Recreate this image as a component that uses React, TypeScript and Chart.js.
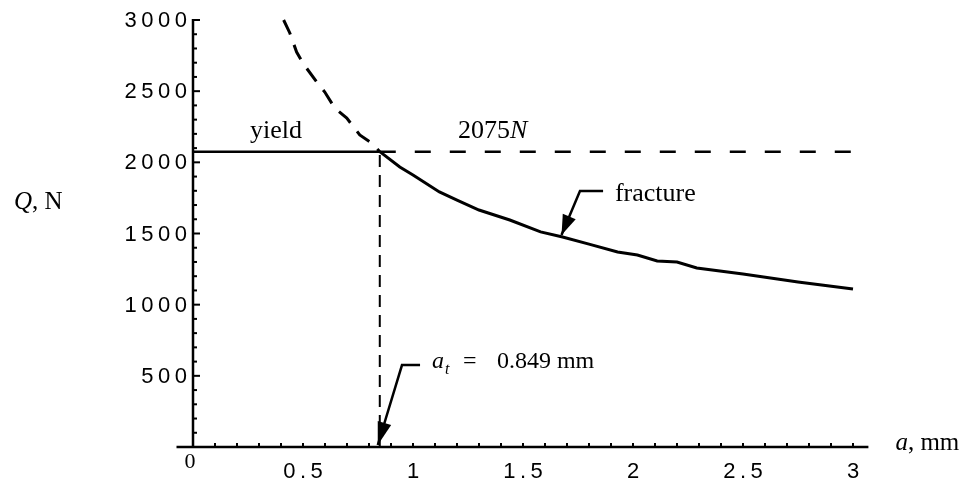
import React, { useEffect, useRef } from 'react';
import { Chart, registerables } from 'chart.js';

Chart.register(...registerables);

// ---- data ----
const yieldA = [0, 0.849];
const yieldQ = [2075, 2075];

const limitA = [0.849, 3.0];
const limitQ = [2075, 2075];

const transitionA = [0.849, 0.849];
const transitionQ = [0, 2075];

const extrapA = [0.412, 0.44, 0.471, 0.499, 0.562, 0.599, 0.644, 0.699, 0.758, 0.812, 0.849];
const extrapQ = [3000, 2909, 2775, 2698, 2565, 2494, 2382, 2311, 2192, 2136, 2075];

const fractureA = [0.849, 0.94, 1.0, 1.12, 1.2, 1.3, 1.44, 1.58, 1.68, 1.8, 1.93, 2.02, 2.11, 2.2, 2.29, 2.5, 2.75, 3.0];
const fractureQ = [2075, 1967, 1911, 1792, 1735, 1665, 1595, 1511, 1475, 1425, 1370, 1349, 1307, 1300, 1258, 1215, 1160, 1110];

const xTickValues = [0.5, 1, 1.5, 2, 2.5, 3];
const xTickLabels = ['0.5', '1', '1.5', '2', '2.5', '3'];
const yTickValues = [500, 1000, 1500, 2000, 2500, 3000];
const yTickLabels = ['500', '1000', '1500', '2000', '2500', '3000'];
const xMinorStep = 0.1;
const yMinorStep = 100;

const tAt = 0.849;

const SANS = '"Liberation Sans", Arial, sans-serif';
const SERIF = '"Liberation Serif", "Times New Roman", serif';

function pts(xs: number[], ys: number[]) {
  return xs.map((x, i) => ({ x, y: ys[i] }));
}

function drawSpaced(ctx: CanvasRenderingContext2D, text: string, x: number, y: number, spacing: number, align: string) {
  const chars = [...text];
  const widths = chars.map((c) => ctx.measureText(c).width);
  const total = widths.reduce((a, b) => a + b, 0) + spacing * (chars.length - 1);
  let cx = align === 'right' ? x - total : align === 'center' ? x - total / 2 : x;
  ctx.textAlign = 'left';
  chars.forEach((c, i) => {
    ctx.fillText(c, cx, y);
    cx += widths[i] + spacing;
  });
}

function arrow(ctx: CanvasRenderingContext2D, path: number[][], headLen: number, headHalf: number) {
  ctx.beginPath();
  ctx.moveTo(path[0][0], path[0][1]);
  for (let i = 1; i < path.length; i++) ctx.lineTo(path[i][0], path[i][1]);
  ctx.stroke();
  const [tx, ty] = path[path.length - 1];
  const [sx, sy] = path[path.length - 2];
  const ang = Math.atan2(ty - sy, tx - sx);
  const bx = tx - headLen * Math.cos(ang);
  const by = ty - headLen * Math.sin(ang);
  ctx.beginPath();
  ctx.moveTo(tx, ty);
  ctx.lineTo(bx + headHalf * Math.sin(ang), by - headHalf * Math.cos(ang));
  ctx.lineTo(bx - headHalf * Math.sin(ang), by + headHalf * Math.cos(ang));
  ctx.closePath();
  ctx.fill();
}

export default function App() {
  const ref = useRef<HTMLCanvasElement>(null);

  useEffect(() => {
    document.body.style.margin = '0';
    const canvas = ref.current!;

    const notes = {
      id: 'axesAndNotes',
      afterDatasetsDraw(chart: any) {
        const ctx: CanvasRenderingContext2D = chart.ctx;
        const xs = chart.scales.x;
        const ys = chart.scales.y;
        const px = (v: number) => xs.getPixelForValue(v);
        const py = (v: number) => ys.getPixelForValue(v);
        const x0 = px(0);
        const y0 = py(0);
        ctx.save();
        ctx.strokeStyle = '#000';
        ctx.fillStyle = '#000';
        ctx.setLineDash([]);

        // axes lines
        ctx.lineWidth = 2.5;
        ctx.beginPath();
        ctx.moveTo(px(-0.075), y0);
        ctx.lineTo(px(3.07), y0);
        ctx.stroke();
        ctx.beginPath();
        ctx.moveTo(x0, y0);
        ctx.lineTo(x0, py(3000) - 1);
        ctx.stroke();

        // ticks
        ctx.lineWidth = 2;
        for (let v = xMinorStep; v <= 3.0001; v += xMinorStep) {
          ctx.beginPath();
          ctx.moveTo(px(v), y0);
          ctx.lineTo(px(v), y0 - 4);
          ctx.stroke();
        }
        for (let v = yMinorStep; v <= 3000.001; v += yMinorStep) {
          const major = Math.abs(v % 500) < 1e-6;
          ctx.beginPath();
          ctx.moveTo(x0, py(v));
          ctx.lineTo(x0 + (major ? 7 : 4), py(v));
          ctx.stroke();
        }

        // tick labels
        ctx.font = `22px ${SANS}`;
        ctx.textBaseline = 'alphabetic';
        xTickValues.forEach((v, i) => drawSpaced(ctx, xTickLabels[i], px(v), y0 + 31, 4.5, 'center'));
        ctx.textBaseline = 'middle';
        yTickValues.forEach((v, i) => drawSpaced(ctx, yTickLabels[i], x0 - 6, py(v) + 1, 4.5, 'right'));

        ctx.textBaseline = 'alphabetic';
        ctx.font = `22px ${SERIF}`;
        ctx.textAlign = 'center';
        ctx.fillText('0', x0 - 3, y0 + 21);

        // axis titles
        ctx.textAlign = 'left';
        ctx.font = `italic 25px ${SERIF}`;
        ctx.fillText('Q', 14, py(1670));
        let w = ctx.measureText('Q').width;
        ctx.font = `25px ${SERIF}`;
        ctx.fillText(', N', 14 + w, py(1670));

        const ax = px(3.07) + 27;
        ctx.font = `italic 25px ${SERIF}`;
        ctx.fillText('a', ax, y0 + 3);
        w = ctx.measureText('a').width;
        ctx.font = `25px ${SERIF}`;
        ctx.fillText(', mm', ax + w, y0 + 3);

        // annotations
        ctx.font = `26px ${SERIF}`;
        ctx.fillText('yield', px(0.259), py(2171));
        ctx.fillText('2075', px(1.205), py(2171));
        w = ctx.measureText('2075').width;
        ctx.font = `italic 26px ${SERIF}`;
        ctx.fillText('N', px(1.205) + w, py(2171));

        ctx.font = `26px ${SERIF}`;
        ctx.fillText('fracture', px(1.918), py(1729));

        const atX = px(1.086);
        const atY = py(555);
        ctx.font = `italic 24px ${SERIF}`;
        ctx.fillText('a', atX, atY);
        ctx.font = `italic 16px ${SERIF}`;
        ctx.fillText('t', atX + 13, atY + 6);
        ctx.font = `24px ${SERIF}`;
        ctx.fillText('=', atX + 31, atY);
        ctx.fillText('0.849 mm', atX + 65, atY);

        // arrows
        ctx.lineWidth = 2.5;
        ctx.lineJoin = 'miter';
        arrow(ctx, [[px(1.864), py(1799)], [px(1.759), py(1799)], [px(1.675), py(1490)]], 20, 7);
        arrow(ctx, [[px(1.032), py(576)], [px(0.95), py(576)], [px(tAt) - 2, py(14)]], 23, 7);

        ctx.restore();
      },
    };

    const chart = new Chart(canvas, {
      type: 'scatter',
      data: {
        datasets: [
          { data: pts(transitionA, transitionQ), showLine: true, borderColor: '#000', borderWidth: 2, borderDash: [12, 8], pointRadius: 0, clip: false } as any,
          { data: pts(limitA, limitQ), showLine: true, borderColor: '#000', borderWidth: 2.5, borderDash: [16, 19], pointRadius: 0, clip: false } as any,
          { data: pts(extrapA, extrapQ), showLine: true, borderColor: '#000', borderWidth: 3, borderDash: [16, 11], pointRadius: 0, clip: false } as any,
          { data: pts(yieldA, yieldQ), showLine: true, borderColor: '#000', borderWidth: 2.5, pointRadius: 0, clip: false } as any,
          { data: pts(fractureA, fractureQ), showLine: true, borderColor: '#000', borderWidth: 3, pointRadius: 0, clip: false } as any,
        ],
      },
      options: {
        animation: false,
        responsive: false,
        maintainAspectRatio: false,
        layout: { padding: { left: 193, right: 113, top: 20, bottom: 35 } },
        plugins: { legend: { display: false }, tooltip: { enabled: false } },
        scales: {
          x: { type: 'linear', min: 0, max: 3, display: false },
          y: { type: 'linear', min: 0, max: 3000, display: false },
        },
      },
      plugins: [notes],
    });
    return () => chart.destroy();
  }, []);

  return <canvas ref={ref} width={966} height={482} style={{ display: 'block' }} />;
}
